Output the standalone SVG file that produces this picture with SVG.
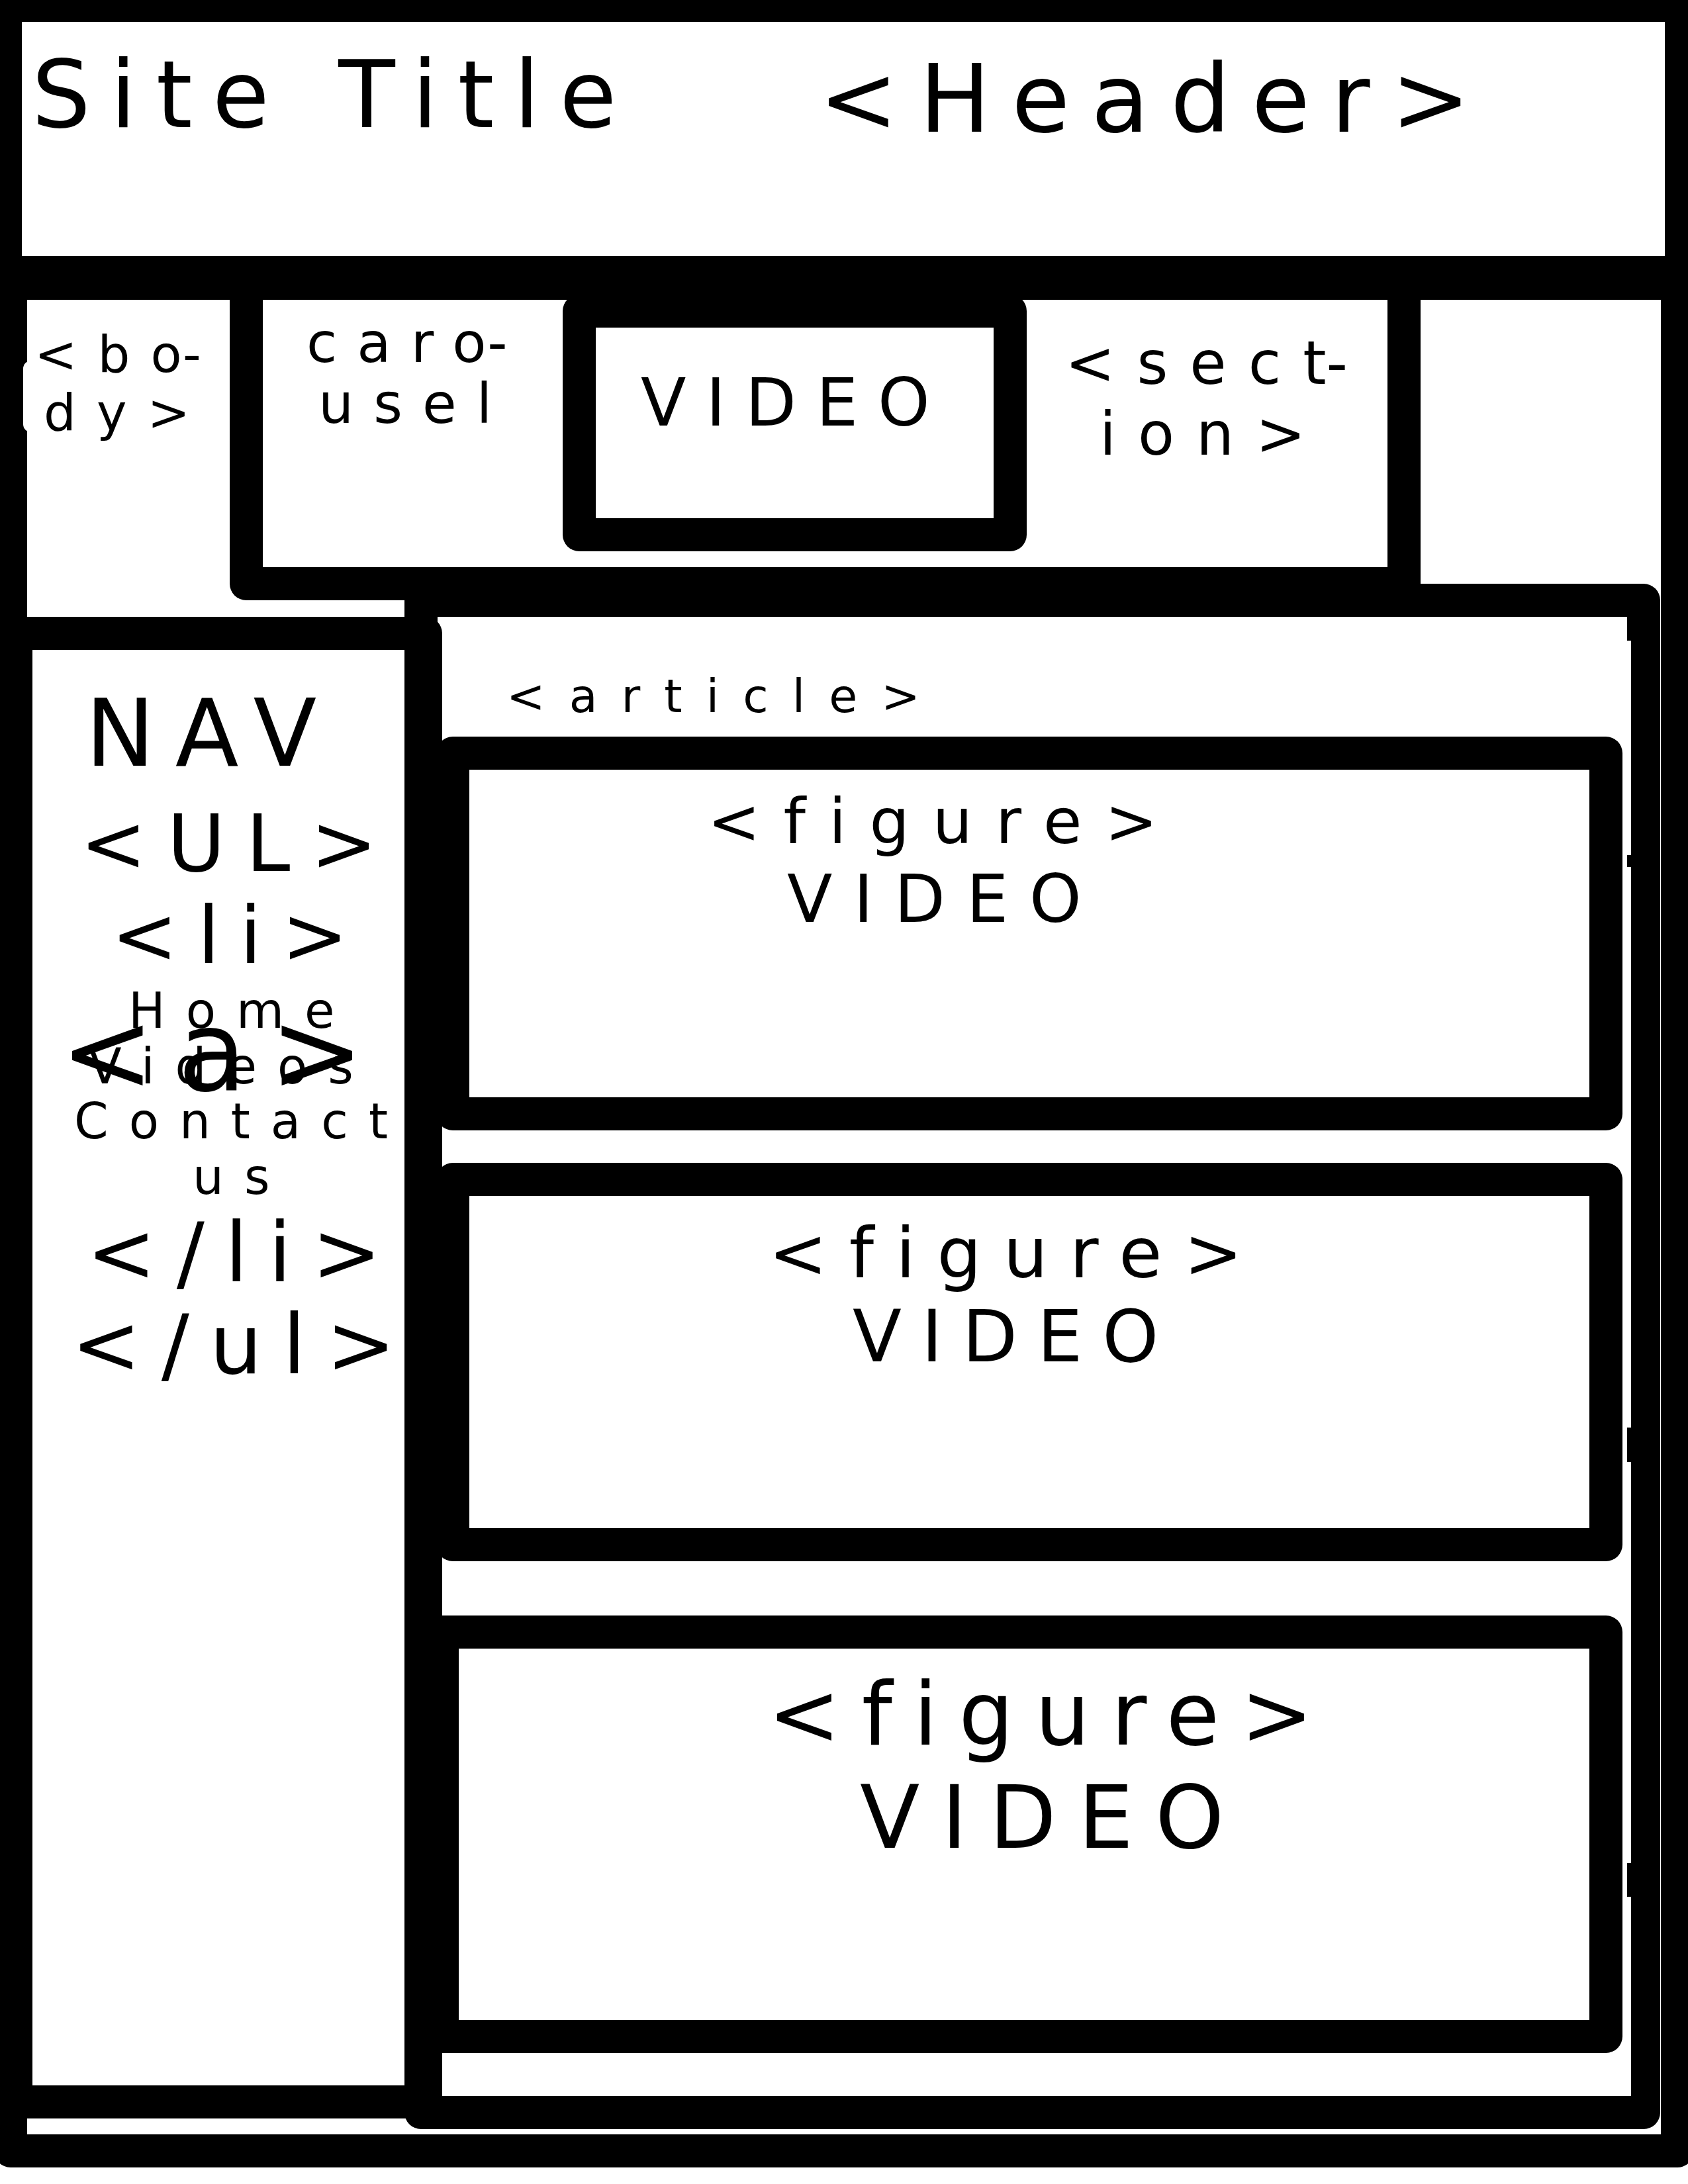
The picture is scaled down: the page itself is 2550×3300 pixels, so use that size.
<svg xmlns="http://www.w3.org/2000/svg" width="2550" height="3300" viewBox="0 0 2550 3300">
<style>
.box{fill:none;stroke:#000;stroke-width:50;stroke-linejoin:round}
text{font-family:"DejaVu Sans","Liberation Sans",sans-serif;fill:#000}
</style>
<rect x="0" y="0" width="2550" height="3300" fill="#fff"/>
<g id="header">
<rect class="box" x="8" y="8" width="2532" height="404"/>
<text x="48" y="192" font-size="140" letter-spacing="30">Site Title</text>
<text x="1237" y="199" font-size="143" letter-spacing="32">&lt;Header&gt;</text>
</g>
<g id="body">
<rect class="box" x="16" y="428" width="2518" height="2822"/>
<rect x="35" y="545" width="60" height="108" rx="12" fill="#fff"/>
<text font-size="77" letter-spacing="31"><tspan x="52" y="562">&lt;bo</tspan><tspan dx="-31">-</tspan><tspan x="66" y="650">dy&gt;</tspan></text>
</g>
<g id="carousel">
<rect class="box" x="372" y="428" width="1749" height="454"/>
<text font-size="84" letter-spacing="30"><tspan x="463" y="547">caro</tspan><tspan dx="-30">-</tspan><tspan x="481" y="639">usel</tspan></text>
</g>
<g id="carousel-video">
<rect class="box" x="875" y="470" width="651" height="338"/>
<text x="968" y="643" font-size="100" letter-spacing="30">VIDEO</text>
</g>
<g id="section">
<text font-size="90" letter-spacing="33"><tspan x="1609" y="580">&lt;sect</tspan><tspan dx="-33">-</tspan><tspan x="1661" y="687">ion&gt;</tspan></text>
</g>
<g id="nav">
<rect class="box" x="24" y="957" width="619" height="2219"/>
<text x="129" y="1157" font-size="140" letter-spacing="31">NAV</text>
<text x="121" y="1316" font-size="120" letter-spacing="31">&lt;UL&gt;</text>
<text x="168" y="1455" font-size="120" letter-spacing="30">&lt;li&gt;</text>
<text x="91" y="1648" font-size="170" letter-spacing="35">&lt;a&gt;</text>
<text x="194" y="1553" font-size="74" letter-spacing="31">Home</text>
<text x="133" y="1637" font-size="74" letter-spacing="31">Videos</text>
<text x="112" y="1720" font-size="74" letter-spacing="31">Contact</text>
<text x="291" y="1804" font-size="74" letter-spacing="31">us</text>
<text x="131" y="1936" font-size="125" letter-spacing="31">&lt;/li&gt;</text>
<text x="108" y="2075" font-size="125" letter-spacing="31">&lt;/ul&gt;</text>
</g>
<g id="article">
<rect class="box" x="636" y="907" width="1847" height="2285"/>
<rect x="2458" y="968" width="6" height="324" fill="#fff"/>
<rect x="2458" y="1310" width="6" height="847" fill="#fff"/>
<rect x="2458" y="2209" width="6" height="606" fill="#fff"/>
<rect x="2458" y="2866" width="6" height="301" fill="#fff"/>
<text x="765" y="1076" font-size="70" letter-spacing="36">&lt;article&gt;</text>
</g>
<g id="figure1">
<rect class="box" x="684" y="1138" width="1742" height="545"/>
<text x="1069" y="1274" font-size="95" letter-spacing="35">&lt;figure&gt;</text>
<text x="1189" y="1393" font-size="100" letter-spacing="32">VIDEO</text>
</g>
<g id="figure2">
<rect class="box" x="684" y="1782" width="1742" height="552"/>
<text x="1161" y="1930" font-size="106" letter-spacing="33">&lt;figure&gt;</text>
<text x="1288" y="2057" font-size="108" letter-spacing="30">VIDEO</text>
</g>
<g id="figure3">
<rect class="box" x="668" y="2466" width="1758" height="611"/>
<text x="1160" y="2636" font-size="131" letter-spacing="32">&lt;figure&gt;</text>
<text x="1299" y="2792" font-size="132" letter-spacing="33">VIDEO</text>
</g>
<g id="connectors"/>
</svg>
